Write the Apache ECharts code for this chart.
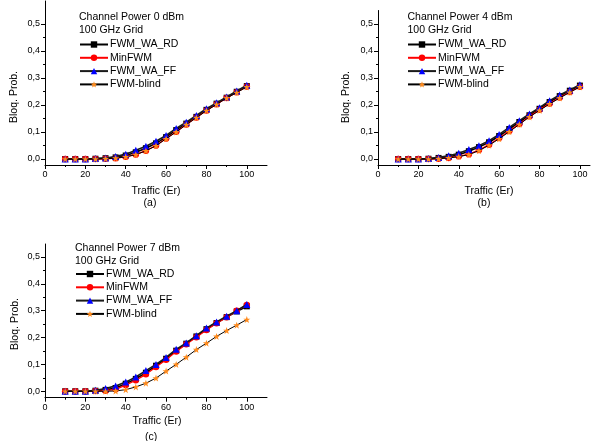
<!DOCTYPE html>
<html>
<head>
<meta charset="utf-8">
<script src="https://cdn.jsdelivr.net/npm/echarts@6/dist/echarts.min.js"></script>
<style>
  html, body { margin: 0; padding: 0; background: #fff; }
  #chart { width: 600px; height: 441px; }
</style>
</head>
<body>
<div id="chart"></div>
<script>
// traffic load (Er)
const traffic = [10, 15, 20, 25, 30, 35, 40, 45, 50, 55, 60, 65, 70, 75, 80, 85, 90, 95, 100];

// (a) channel power 0 dBm
const rdA    = [0, 0, 0, 0.001, 0.003, 0.006, 0.013, 0.025, 0.040, 0.058, 0.081, 0.107, 0.131, 0.156, 0.182, 0.205, 0.227, 0.249, 0.270];
const minA   = [0, 0, 0, 0, 0.001, 0.003, 0.008, 0.017, 0.031, 0.050, 0.076, 0.101, 0.128, 0.154, 0.180, 0.203, 0.226, 0.247, 0.268];
const ffA    = [0, 0, 0, 0.002, 0.004, 0.009, 0.018, 0.032, 0.047, 0.066, 0.087, 0.113, 0.136, 0.161, 0.186, 0.208, 0.230, 0.252, 0.273];
const blindA = [0, 0, 0, 0, 0.001, 0.003, 0.008, 0.016, 0.030, 0.049, 0.075, 0.100, 0.127, 0.153, 0.179, 0.202, 0.226, 0.246, 0.267];

// (b) channel power 4 dBm
const rdB    = [0, 0, 0, 0.001, 0.004, 0.008, 0.016, 0.029, 0.044, 0.062, 0.085, 0.111, 0.137, 0.162, 0.186, 0.211, 0.233, 0.253, 0.272];
const minB   = [0, 0, 0, 0, 0.001, 0.004, 0.010, 0.018, 0.033, 0.053, 0.078, 0.104, 0.130, 0.158, 0.182, 0.206, 0.228, 0.248, 0.268];
const ffB    = [0, 0, 0, 0.002, 0.006, 0.012, 0.021, 0.035, 0.049, 0.068, 0.091, 0.117, 0.142, 0.167, 0.190, 0.216, 0.237, 0.256, 0.275];
const blindB = [0, 0, 0, 0, 0.001, 0.004, 0.009, 0.016, 0.031, 0.051, 0.075, 0.101, 0.128, 0.156, 0.180, 0.204, 0.226, 0.247, 0.267];

// (c) channel power 7 dBm
const rdC    = [0, 0, 0, 0.002, 0.005, 0.012, 0.028, 0.046, 0.069, 0.095, 0.121, 0.151, 0.177, 0.204, 0.231, 0.254, 0.276, 0.297, 0.316];
const minC   = [0, 0, 0, 0.001, 0.002, 0.007, 0.023, 0.041, 0.063, 0.090, 0.117, 0.148, 0.175, 0.201, 0.228, 0.253, 0.275, 0.300, 0.321];
const ffC    = [0, 0, 0, 0.004, 0.010, 0.020, 0.034, 0.053, 0.077, 0.100, 0.126, 0.156, 0.180, 0.207, 0.235, 0.258, 0.279, 0.300, 0.323];
const blindC = [0, 0, 0, 0, 0, 0.001, 0.006, 0.016, 0.030, 0.049, 0.075, 0.100, 0.127, 0.155, 0.179, 0.204, 0.226, 0.246, 0.267];

const seriesNames = ['FWM_WA_RD', 'MinFWM', 'FWM_WA_FF', 'FWM-blind'];
const panelTitles = ['Channel Power 0 dBm', 'Channel Power 4 dBm', 'Channel Power 7 dBm'];
const gridLabel = '100 GHz Grid';
const panelTags = ['(a)', '(b)', '(c)'];
const xTicks = [0, 20, 40, 60, 80, 100];
const xMinor = [10, 30, 50, 70, 90];
const yTicks = [0, 0.1, 0.2, 0.3, 0.4, 0.5];
const yMinor = [0.05, 0.15, 0.25, 0.35, 0.45];

const FONT = 'Liberation Sans, Arial, sans-serif';

const panels = [
  { grid: { left: 45, top: 1, width: 222, height: 164 }, xmax: 110, ymin: -0.0222, ymax: 0.585,
    data: [rdA, minA, ffA, blindA], legend: { left: 79, top: 39 } },
  { grid: { left: 378, top: 10.5, width: 212, height: 154.5 }, xmax: 105, ymin: -0.0222, ymax: 0.55,
    data: [rdB, minB, ffB, blindB], legend: { left: 407, top: 39 } },
  { grid: { left: 45, top: 244, width: 222, height: 153.7 }, xmax: 110, ymin: -0.024, ymax: 0.548,
    data: [rdC, minC, ffC, blindC], legend: { left: 75, top: 268.5 } }
];

const styles = [
  { symbol: 'rect', symbolSize: 6, color: '#000000', line: '#000000', width: 1.6 },
  { symbol: 'circle', symbolSize: 6.5, color: '#ff0000', line: '#ff0000', width: 1.3 },
  { symbol: 'triangle', symbolSize: 7, color: '#0000ff', line: '#1a1a1a', width: 1.6 },
  { symbol: 'path://M0,-10 L2.4,-3.2 L9.5,-3.1 L3.8,1.2 L5.9,8.1 L0,4 L-5.9,8.1 L-3.8,1.2 L-9.5,-3.1 L-2.4,-3.2 Z',
    symbolSize: 7, color: '#ff8a1c', line: '#000000', width: 1 }
];

const grids = [], xAxes = [], yAxes = [], series = [], legends = [];

panels.forEach((p, i) => {
  grids.push(p.grid);
  // main axes
  xAxes.push({
    type: 'value', gridIndex: i, min: 0, max: p.xmax, position: 'bottom',
    axisLine: { show: true, onZero: false, lineStyle: { color: '#000', width: 1 } },
    axisTick: { show: true, customValues: xTicks, length: 4, lineStyle: { color: '#000' } },
    axisLabel: { customValues: xTicks, margin: 5, fontSize: 9, color: '#000', fontFamily: FONT },
    splitLine: { show: false }
  });
  yAxes.push({
    type: 'value', gridIndex: i, min: p.ymin, max: p.ymax, position: 'left',
    axisLine: { show: true, onZero: false, lineStyle: { color: '#000', width: 1 } },
    axisTick: { show: true, customValues: yTicks, length: 4, lineStyle: { color: '#000' } },
    axisLabel: { customValues: yTicks, margin: 5, fontSize: 9, color: '#000', fontFamily: FONT,
      formatter: v => v.toFixed(1).replace('.', ',') },
    splitLine: { show: false }
  });
});

// minor tick axes, stacked on the same edges
panels.forEach((p, i) => {
  xAxes.push({
    type: 'value', gridIndex: i, min: 0, max: p.xmax, position: 'bottom', offset: 0,
    axisLine: { show: false, onZero: false },
    axisTick: { show: true, customValues: xMinor, length: 2, lineStyle: { color: '#000' } },
    axisLabel: { show: false }, splitLine: { show: false }
  });
  yAxes.push({
    type: 'value', gridIndex: i, min: p.ymin, max: p.ymax, position: 'left', offset: 0,
    axisLine: { show: false, onZero: false },
    axisTick: { show: true, customValues: yMinor, length: 2, lineStyle: { color: '#000' } },
    axisLabel: { show: false }, splitLine: { show: false }
  });
});

panels.forEach((p, i) => {
  seriesNames.forEach((name, k) => {
    const s = styles[k];
    series.push({
      name: name, type: 'line', xAxisIndex: i, yAxisIndex: i,
      data: traffic.map((x, j) => [x, p.data[k][j]]),
      symbol: s.symbol, symbolSize: s.symbolSize, showAllSymbol: true,
      itemStyle: { color: s.color, borderWidth: 0 },
      lineStyle: { color: s.line, width: s.width },
      animation: false, z: 2 + k
    });
  });
  legends.push({
    orient: 'vertical', left: p.legend.left, top: p.legend.top, padding: 0,
    itemWidth: 28, itemHeight: 8, itemGap: 2.3,
    data: seriesNames,
    textStyle: { fontSize: 10.5, color: '#000', fontFamily: FONT, padding: [0, 0, 0, -3] }
  });
});

const txt = (x, y, text, opts) => Object.assign({
  type: 'text', x: x, y: y,
  style: Object.assign({ text: text, font: '10.5px ' + FONT, fill: '#000', textAlign: 'center', textVerticalAlign: 'middle' }, opts || {})
});

const graphics = [];
const headerPos = [[79, 17], [407.5, 17], [75, 248]];
const xNamePos = [[156, 191], [489, 191], [157, 421.5]];
const tagPos = [[150, 203], [484, 203], [151, 437]];
const yNamePos = [[14, 97], [346.5, 97], [15, 324]];
panels.forEach((p, i) => {
  graphics.push(txt(headerPos[i][0], headerPos[i][1], panelTitles[i], { textAlign: 'left' }));
  graphics.push(txt(headerPos[i][0], headerPos[i][1] + 13.5, gridLabel, { textAlign: 'left' }));
  graphics.push(txt(xNamePos[i][0], xNamePos[i][1], 'Traffic (Er)'));
  graphics.push(txt(tagPos[i][0], tagPos[i][1], panelTags[i]));
  graphics.push({ type: 'text', x: yNamePos[i][0], y: yNamePos[i][1], rotation: Math.PI / 2,
    style: { text: 'Bloq. Prob.', font: '10.5px ' + FONT, fill: '#000', textAlign: 'center', textVerticalAlign: 'middle' } });
});

const chart = echarts.init(document.getElementById('chart'));
chart.setOption({
  animation: false,
  backgroundColor: '#fff',
  grid: grids,
  xAxis: xAxes,
  yAxis: yAxes,
  legend: legends,
  series: series,
  graphic: graphics
});
</script>
</body>
</html>
